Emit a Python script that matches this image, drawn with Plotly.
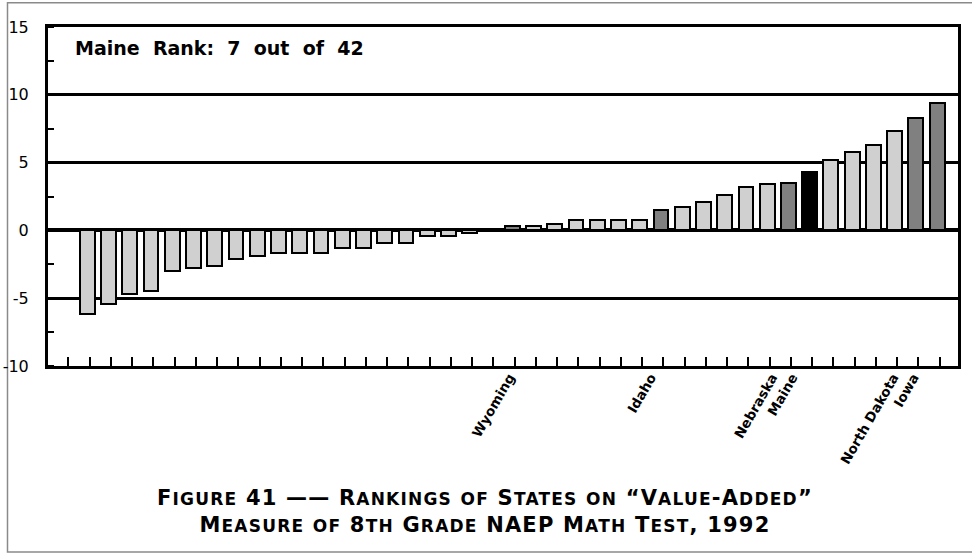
import plotly.graph_objects as go

# State value-added scores, ordered from lowest to highest (42 positions)
values = [None, -6.2, -5.4, -4.7, -4.5, -3.0, -2.8, -2.6, -2.1, -1.9, -1.7,
          -1.7, -1.7, -1.3, -1.3, -0.9, -0.9, -0.4, -0.4, -0.2, 0.0,
          0.3, 0.3, 0.5, 0.8, 0.8, 0.8, 0.8, 1.5, 1.7, 2.1,
          2.6, 3.2, 3.4, 3.5, 4.3, 5.2, 5.8, 6.3, 7.3, 8.3, 9.4]

# Only a handful of states are named on the axis
state_labels = [""] * 42
state_labels[21] = "Wyoming"
state_labels[28] = "Idaho"
state_labels[34] = "Nebraska"
state_labels[35] = "Maine"
state_labels[40] = "North Dakota"
state_labels[41] = "Iowa"

focus_state = "Maine"
y_ticks = [-10, -5, 0, 5, 10, 15]
y_ticktext = ["-10", "-5", "0", "5", "10", "15"]

positions = list(range(len(values)))
LIGHT, DARK, FOCUS = "#d0d0d0", "#808080", "#000000"
colors = [FOCUS if s == focus_state else (DARK if s else LIGHT) for s in state_labels]

SANS = "Liberation Sans, Arial, sans-serif"
WIDE = "DejaVu Sans, sans-serif"

fig = go.Figure()
fig.add_trace(go.Bar(
    x=positions, y=values, width=0.7, offset=-0.46,
    marker=dict(color=colors, line=dict(color="black", width=2)),
    hoverinfo="skip", showlegend=False,
))

# Invisible carrier trace for the state-name axis
named = [i for i, s in enumerate(state_labels) if s]
fig.add_trace(go.Scatter(
    x=named, y=[0] * len(named), xaxis="x2", mode="markers",
    marker=dict(opacity=0), hoverinfo="skip", showlegend=False,
))

W, H = 972, 554
L, R, T, B = 48, 14, 27, 188
pw, ph = W - L - R, H - T - B

def px_x(p):
    return (p - L) / pw

def px_y(p):
    return (H - B - p) / ph

fig.update_layout(
    width=W, height=H,
    margin=dict(l=L, r=R, t=T, b=B, autoexpand=False),
    paper_bgcolor="white", plot_bgcolor="white",
    font=dict(family=SANS, color="black"),
    bargap=0,
    xaxis=dict(
        range=[-0.955, 41.87], tickvals=positions, ticktext=[""] * len(positions),
        ticks="inside", ticklen=9, tickwidth=2, tickcolor="black",
        showgrid=False, zeroline=False, automargin=False,
        showline=True, linewidth=3, linecolor="black", mirror=True,
        fixedrange=True,
    ),
    xaxis2=dict(
        overlaying="x", side="bottom", anchor="y", automargin=False,
        range=[-1.83, 43.2], tickvals=named,
        ticktext=[state_labels[i] for i in named],
        tickangle=-60, ticks="", showgrid=False, zeroline=False, showline=False,
        tickfont=dict(size=13.5, family=WIDE, weight="bold"),
        fixedrange=True,
    ),
    yaxis=dict(
        range=[-10, 15], tickvals=y_ticks, ticktext=y_ticktext, ticks="",
        tickfont=dict(size=16, family=WIDE), ticklabelstandoff=13,
        automargin=False,
        showgrid=True, gridcolor="black", gridwidth=2.5,
        zeroline=True, zerolinecolor="black", zerolinewidth=3.5,
        showline=True, linewidth=3, linecolor="black", mirror=True,
        minor=dict(ticks="inside", ticklen=6, tickwidth=2, tickcolor="black",
                   dtick=2.5, tick0=-10, showgrid=False),
        fixedrange=True,
    ),
)

# Outer frame around the whole figure
fig.add_shape(type="rect", xref="paper", yref="paper",
              x0=px_x(7.5), x1=px_x(978), y0=px_y(552), y1=px_y(2.7),
              line=dict(color="#8a8a8a", width=1.5), layer="below")

fig.add_annotation(
    text="<b>Maine  Rank:  7  out  of  42</b>", xref="paper", yref="paper",
    x=px_x(73), y=px_y(48), xanchor="left", yanchor="middle", showarrow=False,
    font=dict(size=19, family=WIDE),
)

def small_caps(text, big=21, small=17):
    out = []
    for ch in text:
        if ch.islower():
            out.append(f'<span style="font-size:{small}px">{ch.upper()}</span>')
        else:
            out.append(ch)
    return f'<span style="letter-spacing:1.2px">{"".join(out)}</span>'

line1 = small_caps("Figure 41 \u2014\u2014 Rankings of States on \u201cValue-Added\u201d")
line2 = small_caps("Measure of 8th Grade NAEP Math Test, 1992")
fig.add_annotation(
    text=f"<b>{line1}</b><br><b>{line2}</b>", xref="paper", yref="paper",
    x=px_x(485), y=px_y(511), xanchor="center", yanchor="middle", showarrow=False,
    align="center",
    font=dict(size=21, family=WIDE),
)

fig.write_html("out.html")
